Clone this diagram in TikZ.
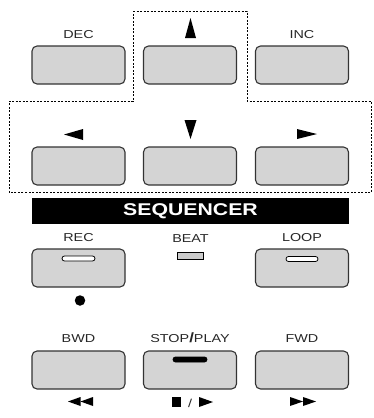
\documentclass[tikz,border=0pt]{standalone}
\usepackage{fontspec}
\setmainfont{Liberation Sans}[FakeStretch=1.25]
\usetikzlibrary{positioning}
\begin{document}
\begin{tikzpicture}[x=1pt,y=-1pt]
    \tikzstyle{button}=[draw=black!80, line width=1.1pt, fill=black!17, rounded corners=5pt, minimum width=93pt, minimum height=38pt, inner sep=0pt]
    \tikzstyle{caption}=[font=\fontsize{11.5}{13}\selectfont, text=black!85, inner sep=0pt]
    \tikzstyle{led}=[draw=black, line width=0.8pt, fill=white, rounded corners=2.5pt, inner sep=0pt, minimum height=5pt]
    \tikzstyle{group}=[draw=black, dash pattern=on 2pt off 1.5pt, line width=0.7pt]
    \useasboundingbox (0,0) rectangle (374,418);

    \draw[group] (133,11) -- (247,11) -- (247,101) -- (371,101) -- (371,192)
    -- (9,192) -- (9,101) -- (133,101) -- cycle;

    \node[button] (dec) at (78.5,65) {};
    \node[button] (up) at (190,65) {};
    \node[button] (inc) at (302,65) {};
    \node[button] (left) at (78.5,166) {};
    \node[button] (down) at (190,166) {};
    \node[button] (right) at (302,166) {};
    \node[caption, above=7pt of dec, anchor=base] (declabel) {DEC};
    \node[caption, above=7pt of inc, anchor=base] (inclabel) {INC};

    \fill (185,38) -- (190.5,18) -- (196,38) -- cycle;
    \fill (83,129) -- (64,134.5) -- (83,140) -- cycle;
    \fill (184.5,120) -- (190.5,139) -- (196.5,120) -- cycle;
    \fill (297,129) -- (317,134) -- (297,139) -- cycle;

    \node[fill=black, minimum width=317pt, minimum height=26pt, inner sep=0pt] (bar) at (190.5,211) {};
    \node[text=white, font=\fontsize{17}{20}\selectfont\bfseries, inner sep=0pt] (seq) at (bar.center) {SEQUENCER};

    \node[button] (rec) at (78.5,268) {};
    \node[button] (loop) at (302,268) {};
    \node[caption, above=7pt of rec, anchor=base] (reclabel) {REC};
    \node[caption, above=7pt of loop, anchor=base] (looplabel) {LOOP};
    \node[caption, anchor=base] (beatlabel) at (190.5,242) {BEAT};
    \node[led, minimum width=33pt] (recled) at (78.5,258.5) {};
    \node[led, minimum width=32pt] (loopled) at (302,259) {};
    \node[led, fill=black!20, rounded corners=0pt, minimum width=26pt, minimum height=7pt] (beatled) at (190,255.5) {};
    \node[circle, fill=black, minimum size=10.5pt, inner sep=0pt] (recdot) at (80,300.5) {};

    \node[button] (bwd) at (78.5,370) {};
    \node[button] (play) at (190,370) {};
    \node[button] (fwd) at (302,370) {};
    \node[caption, above=8pt of bwd, anchor=base] (bwdlabel) {BWD};
    \node[caption, above=8pt of play, anchor=base] (playlabel) {STOP{\fontsize{13.5}{13}\selectfont\bfseries/}PLAY};
    \node[caption, above=8pt of fwd, anchor=base] (fwdlabel) {FWD};
    \node[led, fill=black, minimum width=34pt] (playled) at (190,359.5) {};

    \fill (80.5,397) -- (68,401.5) -- (80.5,406) -- cycle;
    \fill (93,397) -- (80.5,401.5) -- (93,406) -- cycle;
    \fill (290,397) -- (303,401.5) -- (290,406) -- cycle;
    \fill (303,397) -- (316,401.5) -- (303,406) -- cycle;
    \fill (172,397) rectangle (181,407);
    \node[caption, anchor=base] (slash) at (190,407) {/};
    \fill (199,397) -- (213,402) -- (199,407) -- cycle;
\end{tikzpicture}
\end{document}
